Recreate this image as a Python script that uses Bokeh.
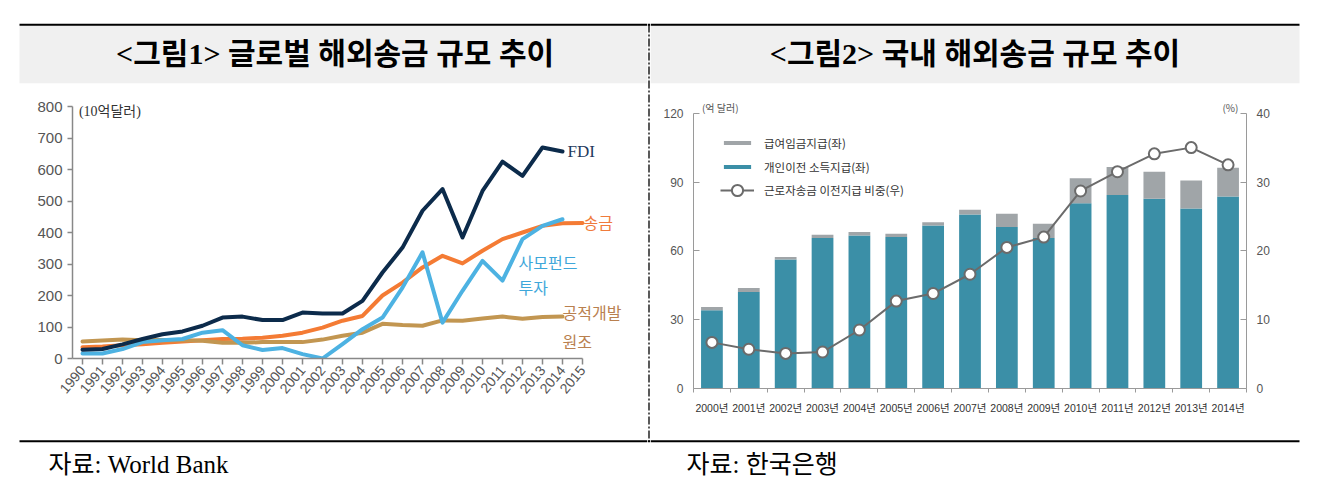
import numpy as np
from bokeh.plotting import figure
from bokeh.layouts import row, column
from bokeh.models import (Range1d, LinearAxis, FixedTicker, Legend, LegendItem,
                          ColumnDataSource)
from bokeh.core.properties import value
from bokeh.embed import file_html
from bokeh.resources import INLINE

# ---------------- data: figure 1 (global, USD bn) ----------------
years1 = list(range(1990, 2015))            # 1990..2014
years_remit = list(range(1990, 2016))       # 1990..2015
fdi = [28, 30, 45, 62, 77, 86, 104, 130, 133, 122, 122, 146, 143, 143, 183,
       273, 352, 469, 538, 384, 532, 625, 580, 670, 657]
remit = [36, 38, 42, 45, 50, 54, 58, 62, 63, 66, 72, 82, 98, 120, 135,
         200, 241, 289, 326, 302, 342, 379, 400, 421, 429, 430]
portfolio = [16, 16, 30, 52, 58, 62, 82, 90, 42, 27, 33, 14, 0, 46, 93,
             130, 225, 337, 114, 215, 310, 247, 379, 421, 442]
oda = [54, 57, 60, 58, 59, 58, 56, 50, 50, 52, 52, 52, 60, 72, 82,
       110, 106, 104, 121, 120, 127, 133, 126, 132, 133]
ticks1_y = [0, 100, 200, 300, 400, 500, 600, 700, 800]

# ---------------- data: figure 2 (Korea, USD 100m / %) ----------------
years2 = ["2000년", "2001년", "2002년", "2003년", "2004년", "2005년", "2006년",
          "2007년", "2008년", "2009년", "2010년", "2011년", "2012년", "2013년", "2014년"]
personal = [34.1, 42.1, 56.2, 65.6, 66.7, 66.0, 71.1, 75.9, 70.4, 65.6,
            80.8, 84.4, 82.7, 78.5, 83.7]
wages = [1.4, 1.7, 1.1, 1.4, 1.5, 1.5, 1.4, 2.0, 5.8, 6.2,
         10.9, 12.1, 11.8, 12.2, 12.5]
ratio = [6.7, 5.7, 5.1, 5.3, 8.5, 12.7, 13.8, 16.6, 20.5, 22.0,
         28.7, 31.5, 34.1, 35.0, 32.5]
ticks2_left = [0, 30, 60, 90, 120]
ticks2_right = [0, 10, 20, 30, 40]

SERIF_KR = value("Liberation Serif, Noto Sans CJK KR")
SANS_KR = value("Noto Sans CJK KR")
GRAY_BG = "#f0f0f0"


def blank(w, h, xr, yr):
    p = figure(width=w, height=h, x_range=Range1d(*xr), y_range=Range1d(*yr),
               output_backend="svg", toolbar_location=None, min_border=0,
               x_axis_location=None, y_axis_location=None)
    p.frame_align = False
    p.grid.visible = False
    p.outline_line_color = None
    p.background_fill_color = "white"
    p.border_fill_color = "white"
    return p


# ---------------- headers ----------------
hL = blank(647, 90, (0, 647), (90, 0))
hL.quad(left=19, right=647, top=24.5, bottom=82.7, fill_color=GRAY_BG, line_color=None)
hL.segment(x0=19, y0=24.3, x1=647, y1=24.3, line_color="black", line_width=2)
hL.text(x=[334.6], y=[52.5], text=["<그림1> 글로벌 해외송금 규모 추이"], text_align="center",
        text_baseline="middle", text_font=SERIF_KR, text_font_size="30px",
        text_font_style="bold", text_color="black")

hR = blank(670, 90, (650, 1320), (90, 0))
hR.quad(left=650, right=1299, top=24.5, bottom=82.7, fill_color=GRAY_BG, line_color=None)
hR.segment(x0=650, y0=24.3, x1=1299, y1=24.3, line_color="black", line_width=2)
hR.text(x=[974.5], y=[52.5], text=["<그림2> 국내 해외송금 규모 추이"], text_align="center",
        text_baseline="middle", text_font=SERIF_KR, text_font_size="30px",
        text_font_style="bold", text_color="black")

# ---------------- divider ----------------
dv = blank(3, 495, (647, 650), (495, 0))
dv.quad(left=647, right=650, top=24.5, bottom=82.7, fill_color=GRAY_BG, line_color=None)
dv.segment(x0=[647, 647], y0=[24.3, 440.7], x1=[650, 650], y1=[24.3, 440.7],
           line_color="black", line_width=2)
dv.segment(x0=648.5, y0=24, x1=648.5, y1=441, line_color="black", line_width=1.3,
           line_dash="8 2 2 2")

# ---------------- footers ----------------
fL = blank(647, 70, (0, 647), (495, 425))
fL.segment(x0=19, y0=440.7, x1=647, y1=440.7, line_color="black", line_width=2)
fL.text(x=[48], y=[464], text=["자료: World Bank"], text_align="left", text_baseline="middle",
        text_font=SERIF_KR, text_font_size="25px", text_color="black")

fR = blank(670, 70, (650, 1320), (495, 425))
fR.segment(x0=650, y0=440.7, x1=1299, y1=440.7, line_color="black", line_width=2)
fR.text(x=[686], y=[464], text=["자료:  한국은행"], text_align="left", text_baseline="middle",
        text_font=SERIF_KR, text_font_size="25px", text_color="black")

# ---------------- chart 1 ----------------
cL = figure(width=647, height=335, x_range=Range1d(1989.5, 2018.25),
            y_range=Range1d(0, 850.8), output_backend="svg", toolbar_location=None,
            min_border_left=72, min_border_right=0, min_border_top=0, min_border_bottom=67)
cL.frame_align = False
cL.grid.visible = False
cL.outline_line_color = None

cL.line(years_remit, remit, line_color="#f47b34", line_width=4, line_join="round", line_cap="round")
cL.line(years1, oda, line_color="#c29651", line_width=4, line_join="round", line_cap="round")
cL.line(years1, portfolio, line_color="#4db2e2", line_width=4, line_join="round", line_cap="round")
cL.line(years1, fdi, line_color="#0c2b4b", line_width=4, line_join="round", line_cap="round")

cL.text(x=[2014.25], y=[657], text=["FDI"], text_font=value("Liberation Serif"),
        text_font_size="17px", text_color="#1f3b5e", text_baseline="middle")
cL.text(x=[2015.05], y=[433], text=["송금"], text_font=SANS_KR, text_font_size="16px",
        text_color="#f07b3c", text_baseline="middle")
cL.text(x=[2011.8, 2011.8], y=[306, 226], text=["사모펀드", "투자"], text_font=SANS_KR,
        text_font_size="16px", text_color="#3ea7da", text_baseline="middle")
cL.text(x=[2014.0, 2014.0], y=[147, 57], text=["공적개발", "원조"], text_font=SANS_KR,
        text_font_size="16px", text_color="#b9804f", text_baseline="middle")
cL.text(x=[1989.82], y=[785], text=["(10억달러)"], text_font=SERIF_KR,
        text_font_size="14px", text_color="#333333", text_baseline="middle")

xa = cL.xaxis[0]
xa.bounds = (1989.5, 2015)
xa.ticker = FixedTicker(ticks=years_remit)
xa.major_label_orientation = 0.87
xa.major_label_text_font = "Liberation Sans"
xa.major_label_text_font_size = "14px"
xa.major_label_text_color = "#555555"
xa.axis_line_color = "#888888"
xa.axis_line_width = 1.5
xa.major_tick_line_color = "#888888"
xa.major_tick_line_width = 1.5
xa.major_tick_out = 6
xa.major_tick_in = 0
xa.minor_tick_line_color = None
xa.major_label_standoff = 3

ya = cL.yaxis[0]
ya.bounds = (0, 800)
ya.ticker = FixedTicker(ticks=ticks1_y)
ya.major_label_text_font = "Liberation Sans"
ya.major_label_text_font_size = "15px"
ya.major_label_text_color = "#555555"
ya.axis_line_color = "#888888"
ya.axis_line_width = 1.5
ya.major_tick_line_color = "#888888"
ya.major_tick_line_width = 1.5
ya.major_tick_out = 5
ya.major_tick_in = 0
ya.minor_tick_line_color = None
ya.major_label_standoff = 5

# ---------------- chart 2 ----------------
n2 = len(years2)
xpos = list(np.arange(n2) + 0.5)
src = ColumnDataSource(dict(x=xpos, personal=personal, wages=wages, ratio=ratio))

cR = figure(width=670, height=335, x_range=Range1d(0, n2), y_range=Range1d(0, 129.9),
            output_backend="svg", toolbar_location=None,
            min_border_left=43, min_border_right=74, min_border_top=0, min_border_bottom=37)
cR.frame_align = False
cR.extra_y_ranges = {"pct": Range1d(0, 43.3)}
cR.grid.visible = False
cR.outline_line_color = None

bars = cR.vbar_stack(["personal", "wages"], x="x", width=0.59, source=src,
                     fill_color=["#3b8fa7", "#a0a5a8"], line_color=None)
ln = cR.line(x="x", y="ratio", source=src, y_range_name="pct", line_color="#6b6b6b", line_width=2)
sc = cR.scatter(x="x", y="ratio", source=src, y_range_name="pct", size=11, marker="circle",
                fill_color="white", line_color="#6b6b6b", line_width=2)

cR.text(x=[0.23], y=[122.6], text=["(억 달러)"], text_font=SANS_KR, text_font_size="10px",
        text_color="#555555", text_baseline="middle")
cR.text(x=[14.78], y=[122.6], text=["(%)"], text_font=SANS_KR, text_font_size="10px",
        text_color="#555555", text_baseline="middle", text_align="right")

xb = cR.xaxis[0]
xb.ticker = FixedTicker(ticks=xpos, minor_ticks=list(range(0, n2 + 1)))
xb.major_label_overrides = {float(x): lab for x, lab in zip(xpos, years2)}
xb.major_label_text_font = "Liberation Sans, Noto Sans CJK KR"
xb.major_label_text_font_size = "10.5px"
xb.major_label_text_color = "#333333"
xb.axis_line_color = "#9a9a9a"
xb.major_tick_in = 0
xb.major_tick_out = 0
xb.minor_tick_in = 0
xb.minor_tick_out = 4
xb.minor_tick_line_color = "#9a9a9a"
xb.major_label_standoff = 9

yl = cR.yaxis[0]
yl.bounds = (0, 120)
yl.ticker = FixedTicker(ticks=ticks2_left)
yr = LinearAxis(y_range_name="pct", bounds=(0, 40), ticker=FixedTicker(ticks=ticks2_right))
cR.add_layout(yr, "right")
for ax in (yl, yr):
    ax.major_label_text_font = "Liberation Sans"
    ax.major_label_text_font_size = "12px"
    ax.major_label_text_color = "#555555"
    ax.axis_line_color = "#9a9a9a"
    ax.major_tick_line_color = "#9a9a9a"
    ax.major_tick_in = 6
    ax.major_tick_out = 0
    ax.minor_tick_line_color = None
    ax.major_label_standoff = 10

leg_style = dict(glyph_width=34, label_standoff=10, padding=0, margin=0, spacing=4,
                 border_line_color=None, background_fill_alpha=0,
                 label_text_font_size="11.5px", label_text_color="#333333",
                 label_text_font="Noto Sans CJK KR")
legend_bars = Legend(items=[
    LegendItem(label="급여임금지급(좌)", renderers=[bars[1]]),
    LegendItem(label="개인이전 소득지급(좌)", renderers=[bars[0]]),
], location=(27, 388 - 176.7), glyph_height=5, label_height=20, **leg_style)
legend_line = Legend(items=[
    LegendItem(label="근로자송금 이전지급 비중(우)", renderers=[ln, sc]),
], location=(27, 388 - 204), glyph_height=28, label_height=28, **leg_style)
cR.add_layout(legend_bars)
cR.add_layout(legend_line)

layout = row(column(hL, cL, fL), dv, column(hR, cR, fR))

open("out.html", "w").write(file_html(layout, INLINE))
